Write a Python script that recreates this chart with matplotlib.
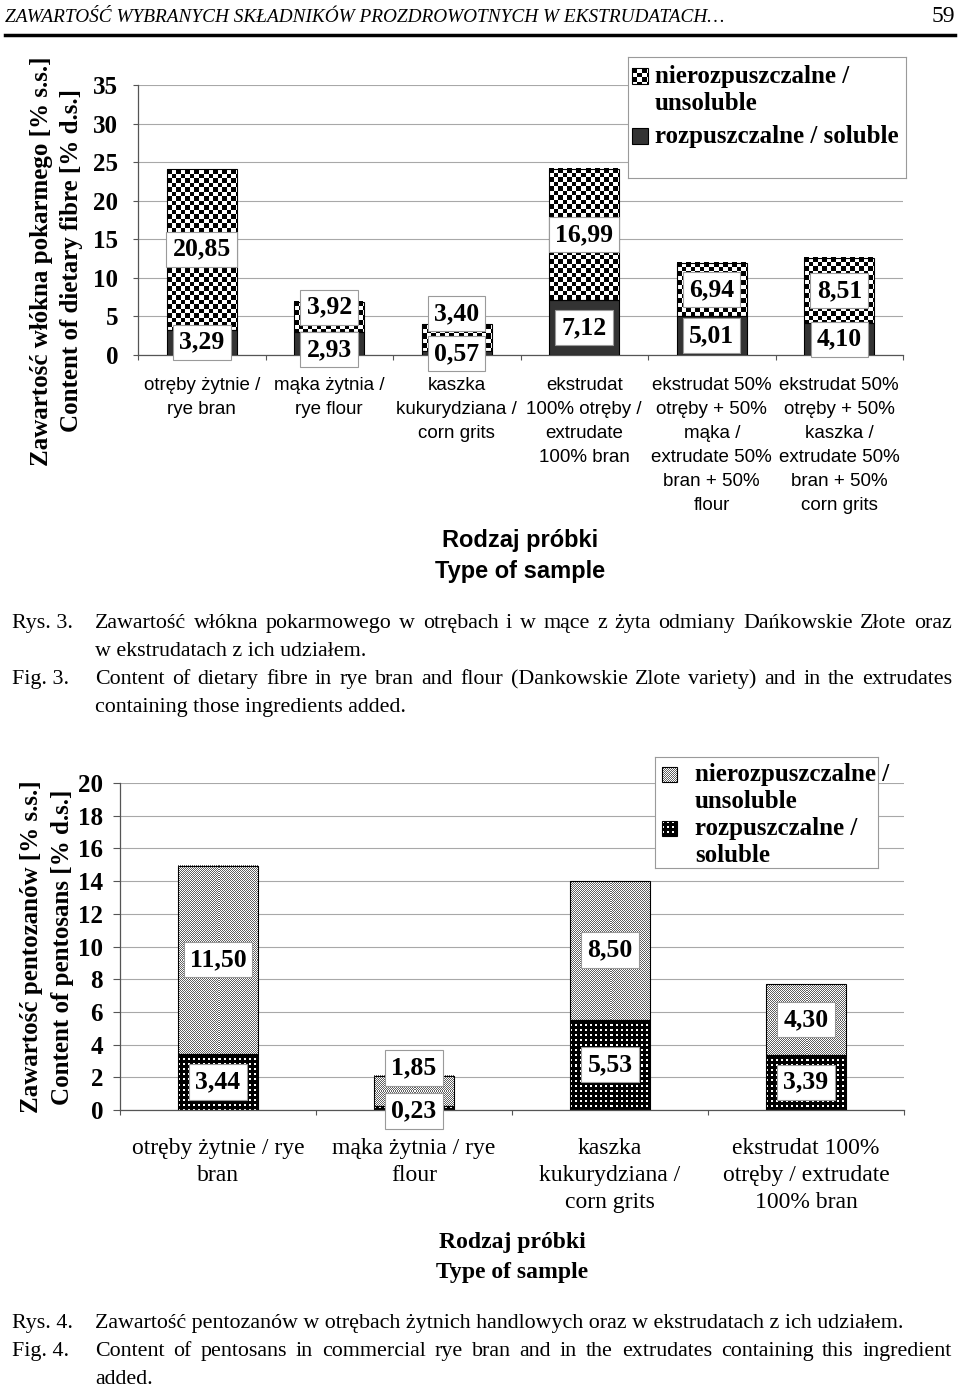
import numpy as np
import matplotlib
matplotlib.use("Agg")
import matplotlib.pyplot as plt
from matplotlib.patches import Rectangle
from matplotlib.lines import Line2D

# ---------------- data ----------------
header_text = "ZAWARTOŚĆ WYBRANYCH SKŁADNIKÓW PROZDROWOTNYCH W EKSTRUDATACH…"
page_number = "59"

fib_categories = [
    "otręby żytnie /\nrye bran",
    "mąka żytnia /\nrye flour",
    "kaszka\nkukurydziana /\ncorn grits",
    "ekstrudat\n100% otręby /\nextrudate\n100% bran",
    "ekstrudat 50%\notręby + 50%\nmąka /\nextrudate 50%\nbran + 50%\nflour",
    "ekstrudat 50%\notręby + 50%\nkaszka /\nextrudate 50%\nbran + 50%\ncorn grits",
]
fib_soluble = [3.29, 2.93, 0.57, 7.12, 5.01, 4.10]
fib_insoluble = [20.85, 3.92, 3.40, 16.99, 6.94, 8.51]
fib_yticks = [0, 5, 10, 15, 20, 25, 30, 35]

pent_categories = [
    "otręby żytnie / rye\nbran",
    "mąka żytnia / rye\nflour",
    "kaszka\nkukurydziana /\ncorn grits",
    "ekstrudat 100%\notręby / extrudate\n100% bran",
]
pent_soluble = [3.44, 0.23, 5.53, 3.39]
pent_insoluble = [11.50, 1.85, 8.50, 4.30]
pent_yticks = [0, 2, 4, 6, 8, 10, 12, 14, 16, 18, 20]

legend_insoluble = "nierozpuszczalne /\nunsoluble"
legend_soluble_1 = "rozpuszczalne / soluble"
legend_soluble_2 = "rozpuszczalne /\nsoluble"
xlabel_pl, xlabel_en = "Rodzaj próbki", "Type of sample"
fib_ylabel = ["Zawartość włókna pokarmego [% s.s.]", "Content of dietary fibre [% d.s.]"]
pent_ylabel = ["Zawartość pentozanów [% s.s.]", "Content of pentosans [% d.s.]"]

cap3 = [("Rys. 3.", "Zawartość włókna pokarmowego w otrębach i w mące z żyta odmiany Dańkowskie Złote oraz", True),
        ("", "w ekstrudatach z ich udziałem.", False),
        ("Fig. 3.", "Content of dietary fibre in rye bran and flour (Dankowskie Zlote variety) and in the extrudates", True),
        ("", "containing those ingredients added.", False)]
cap4 = [("Rys. 4.", "Zawartość pentozanów w otrębach żytnich handlowych oraz w ekstrudatach z ich udziałem.", False),
        ("Fig. 4.", "Content of pentosans in commercial rye bran and in the extrudates containing this ingredient", True),
        ("", "added.", False)]

# label offsets (pixels, up positive) to avoid overlapping boxes
fib_sol_off = [0, -6, -1, 0, 0, 0]
fib_ins_off = [0, 10, 24, 0, 0, 0]
pent_sol_off = [0, -3, 0, 0]
pent_ins_off = [0, 23, 0, 0]

# ---------------- setup ----------------
W, H = 960, 1388
fig = plt.figure(figsize=(W / 100, H / 100), dpi=100)
SERIF = ["Liberation Serif", "DejaVu Serif"]
SANS = ["Liberation Sans", "DejaVu Sans"]
renderer = fig.canvas.get_renderer()


def fx(x):
    return x / W


def fy(y):
    return 1 - y / H


def checker(i, j):
    return ((np.floor(i / 4.5) + np.floor(j / 4.5)) % 2).astype(float)


def grey_tex(i, j):
    return np.where((i + j) % 2 == 0, 0.38, 1.0)


def dots(i, j):
    return (((i % 5) < 2) & ((j % 5) < 2)).astype(float)


def pattern_img(fn, nh, nw):
    jj, ii = np.meshgrid(np.arange(nw), np.arange(nh))
    v = fn(ii, jj)
    return np.dstack([v, v, v])


def pattern_fill(ax, bars, fn):
    ax.set_autoscale_on(False)
    for r in bars:
        x0, y0, w, h = r.get_x(), r.get_y(), r.get_width(), r.get_height()
        p0 = ax.transData.transform((x0, y0))
        p1 = ax.transData.transform((x0 + w, y0 + h))
        nw = max(1, int(round(p1[0] - p0[0])))
        nh = max(1, int(round(p1[1] - p0[1])))
        ax.imshow(pattern_img(fn, nh, nw), extent=(x0, x0 + w, y0, y0 + h), origin="upper",
                  interpolation="nearest", aspect="auto", zorder=2.5)


def value_labels(ax, xs, mids, vals, offs):
    for xi, m, v, o in zip(xs, mids, vals, offs):
        ax.annotate(f"{v:.2f}".replace(".", ","), (xi, m), xytext=(0, o * 0.72),
                    textcoords="offset points", ha="center", va="center",
                    fontsize=18.5, fontweight="bold", family=SERIF, zorder=6,
                    bbox=dict(boxstyle="square,pad=0.24", fc="white", ec="#9a9a9a", lw=0.8))


def style_axes(ax):
    for s in ["top", "right"]:
        ax.spines[s].set_visible(False)
    for s in ["left", "bottom"]:
        ax.spines[s].set_color("#555555")
        ax.spines[s].set_linewidth(0.9)
    ax.yaxis.grid(True, color="#a8a8a8", lw=0.8)
    ax.set_axisbelow(True)


def legend_box(x0, y0, x1, y1):
    lax = fig.add_axes([fx(x0), fy(y1), (x1 - x0) / W, (y1 - y0) / H])
    lax.set_xlim(x0, x1)
    lax.set_ylim(y1, y0)
    lax.set_xticks([])
    lax.set_yticks([])
    lax.set_facecolor("white")
    for s in lax.spines.values():
        s.set_color("#9a9a9a")
        s.set_linewidth(0.8)
    lax.set_zorder(10)
    return lax


def swatch(lax, sx0, sy0, size, fn=None, color=None):
    if fn is not None:
        lax.imshow(pattern_img(fn, size, size), extent=(sx0, sx0 + size, sy0 + size, sy0),
                   origin="upper", interpolation="nearest", aspect="auto", zorder=2)
        lax.add_patch(Rectangle((sx0, sy0), size, size, fill=False, ec="black", lw=0.8, zorder=3))
    else:
        lax.add_patch(Rectangle((sx0, sy0), size, size, fc=color, ec="black", lw=0.8, zorder=3))


CAP_KW = dict(family=SERIF, fontsize=15.8)


def justified(text, x0, x1, ybase):
    words = text.split()
    ts = [fig.text(0, fy(ybase), w, va="baseline", ha="left", **CAP_KW) for w in words]
    widths = [t.get_window_extent(renderer).width for t in ts]
    gap = (x1 - x0 - sum(widths)) / (len(words) - 1)
    cx = x0
    for t, wd in zip(ts, widths):
        t.set_x(fx(cx))
        cx += wd + gap


def captions(rows, ys):
    for (lab, txt, just), yy in zip(rows, ys):
        yb = yy + 7
        if lab:
            fig.text(fx(12), fy(yb), lab, va="baseline", ha="left", **CAP_KW)
        if just:
            justified(txt, 95, 952, yb)
        else:
            fig.text(fx(95), fy(yb), txt, va="baseline", ha="left", **CAP_KW)


# ---------------- header ----------------
ht = fig.text(fx(5), fy(17), header_text, style="italic", family=SERIF, fontsize=14, va="center", ha="left")
hw = ht.get_window_extent(renderer).width
ht.set_fontsize(14 * 720 / hw)
fig.text(fx(955), fy(17), page_number, family=SERIF, fontsize=17, va="center", ha="right")
fig.add_artist(Line2D([fx(5), fx(955)], [fy(35), fy(35)], lw=2.5, color="black"))

# ---------------- chart 1: dietary fibre ----------------
ax1 = fig.add_axes([fx(138), fy(355), (903 - 138) / W, (355 - 85) / H])
ax1.set_xlim(-0.5, len(fib_categories) - 0.5)
ax1.set_ylim(0, 35)
x1 = np.arange(len(fib_categories))
b1s = ax1.bar(x1, fib_soluble, width=0.55, color="#333333", edgecolor="black", lw=0.8, zorder=3)
b1i = ax1.bar(x1, fib_insoluble, bottom=fib_soluble, width=0.55, facecolor="none",
              edgecolor="black", lw=0.8, zorder=3)
pattern_fill(ax1, b1i, checker)
ax1.set_xlim(-0.5, len(fib_categories) - 0.5)
ax1.set_ylim(0, 35)
style_axes(ax1)
ax1.set_yticks(fib_yticks)
ax1.set_yticklabels([str(t) for t in fib_yticks], family=SERIF, fontsize=18, fontweight="bold")
ax1.tick_params(axis="y", length=3.6, width=0.8, pad=10.5, color="#555555")
ax1.set_xticks(x1)
ax1.set_xticklabels(fib_categories, family=SANS, fontsize=13.5)
for lab in ax1.get_xticklabels():
    lab.set_linespacing(1.54)
ax1.set_xticks(np.arange(-0.5, len(fib_categories), 1.0), minor=True)
ax1.tick_params(axis="x", which="major", length=0, pad=15.5)
ax1.tick_params(axis="x", which="minor", length=3.6, width=0.8, color="#555555")
value_labels(ax1, x1, [s / 2 for s in fib_soluble], fib_soluble, fib_sol_off)
value_labels(ax1, x1, [s + i / 2 for s, i in zip(fib_soluble, fib_insoluble)], fib_insoluble, fib_ins_off)

fig.text(fx(520.5), fy(556), xlabel_pl + "\n" + xlabel_en, family=SANS, fontsize=17,
         fontweight="bold", ha="center", va="center", linespacing=1.41)
fig.text(fx(42), fy(261), fib_ylabel[0], rotation=90, family=SERIF, fontsize=18,
         fontweight="bold", ha="center", va="center")
fig.text(fx(72), fy(261), fib_ylabel[1], rotation=90, family=SERIF, fontsize=18,
         fontweight="bold", ha="center", va="center")

lg1 = legend_box(628, 57, 906, 178)
swatch(lg1, 632, 68, 16, fn=checker)
swatch(lg1, 632, 128, 16, color="#333333")
lg1.text(655, 76, legend_insoluble.split("\n")[0], family=SERIF, fontsize=18, fontweight="bold", va="center")
lg1.text(655, 103, legend_insoluble.split("\n")[1], family=SERIF, fontsize=18, fontweight="bold", va="center")
lg1.text(655, 136, legend_soluble_1, family=SERIF, fontsize=18, fontweight="bold", va="center")

captions(cap3, [621, 649, 677, 705])

# ---------------- chart 2: pentosans ----------------
ax2 = fig.add_axes([fx(120), fy(1110), (904 - 120) / W, (1110 - 783) / H])
ax2.set_xlim(-0.5, len(pent_categories) - 0.5)
ax2.set_ylim(0, 20)
x2 = np.arange(len(pent_categories))
b2s = ax2.bar(x2, pent_soluble, width=0.41, facecolor="none", edgecolor="black", lw=0.8, zorder=3)
b2i = ax2.bar(x2, pent_insoluble, bottom=pent_soluble, width=0.41, facecolor="none",
              edgecolor="black", lw=0.8, zorder=3)
pattern_fill(ax2, b2s, dots)
pattern_fill(ax2, b2i, grey_tex)
ax2.set_xlim(-0.5, len(pent_categories) - 0.5)
ax2.set_ylim(0, 20)
style_axes(ax2)
ax2.set_yticks(pent_yticks)
ax2.set_yticklabels([str(t) for t in pent_yticks], family=SERIF, fontsize=18, fontweight="bold")
ax2.tick_params(axis="y", length=5, width=0.8, pad=7.2, color="#555555")
ax2.set_xticks(x2)
ax2.set_xticklabels(pent_categories, family=SERIF, fontsize=17)
for lab in ax2.get_xticklabels():
    lab.set_linespacing(1.39)
ax2.set_xticks(np.arange(-0.5, len(pent_categories), 1.0), minor=True)
ax2.tick_params(axis="x", which="major", length=0, pad=20)
ax2.tick_params(axis="x", which="minor", length=3.6, width=0.8, color="#555555")
value_labels(ax2, x2, [s / 2 for s in pent_soluble], pent_soluble, pent_sol_off)
value_labels(ax2, x2, [s + i / 2 for s, i in zip(pent_soluble, pent_insoluble)], pent_insoluble, pent_ins_off)

fig.text(fx(512), fy(1257.5), xlabel_pl + "\n" + xlabel_en, family=SERIF, fontsize=17,
         fontweight="bold", ha="center", va="center", linespacing=1.52)
fig.text(fx(32), fy(947), pent_ylabel[0], rotation=90, family=SERIF, fontsize=18,
         fontweight="bold", ha="center", va="center")
fig.text(fx(62), fy(947), pent_ylabel[1], rotation=90, family=SERIF, fontsize=18,
         fontweight="bold", ha="center", va="center")

lg2 = legend_box(655, 757, 878, 868)
swatch(lg2, 662, 767, 15, fn=grey_tex)
swatch(lg2, 662, 821, 15, fn=dots)
for yy, t in zip([775, 802], legend_insoluble.split("\n")):
    lg2.text(695, yy, t, family=SERIF, fontsize=18, fontweight="bold", va="center")
for yy, t in zip([829, 855], legend_soluble_2.split("\n")):
    lg2.text(695, yy, t, family=SERIF, fontsize=18, fontweight="bold", va="center")

captions(cap4, [1321, 1349, 1377])

fig.savefig("out.png", dpi=100)
